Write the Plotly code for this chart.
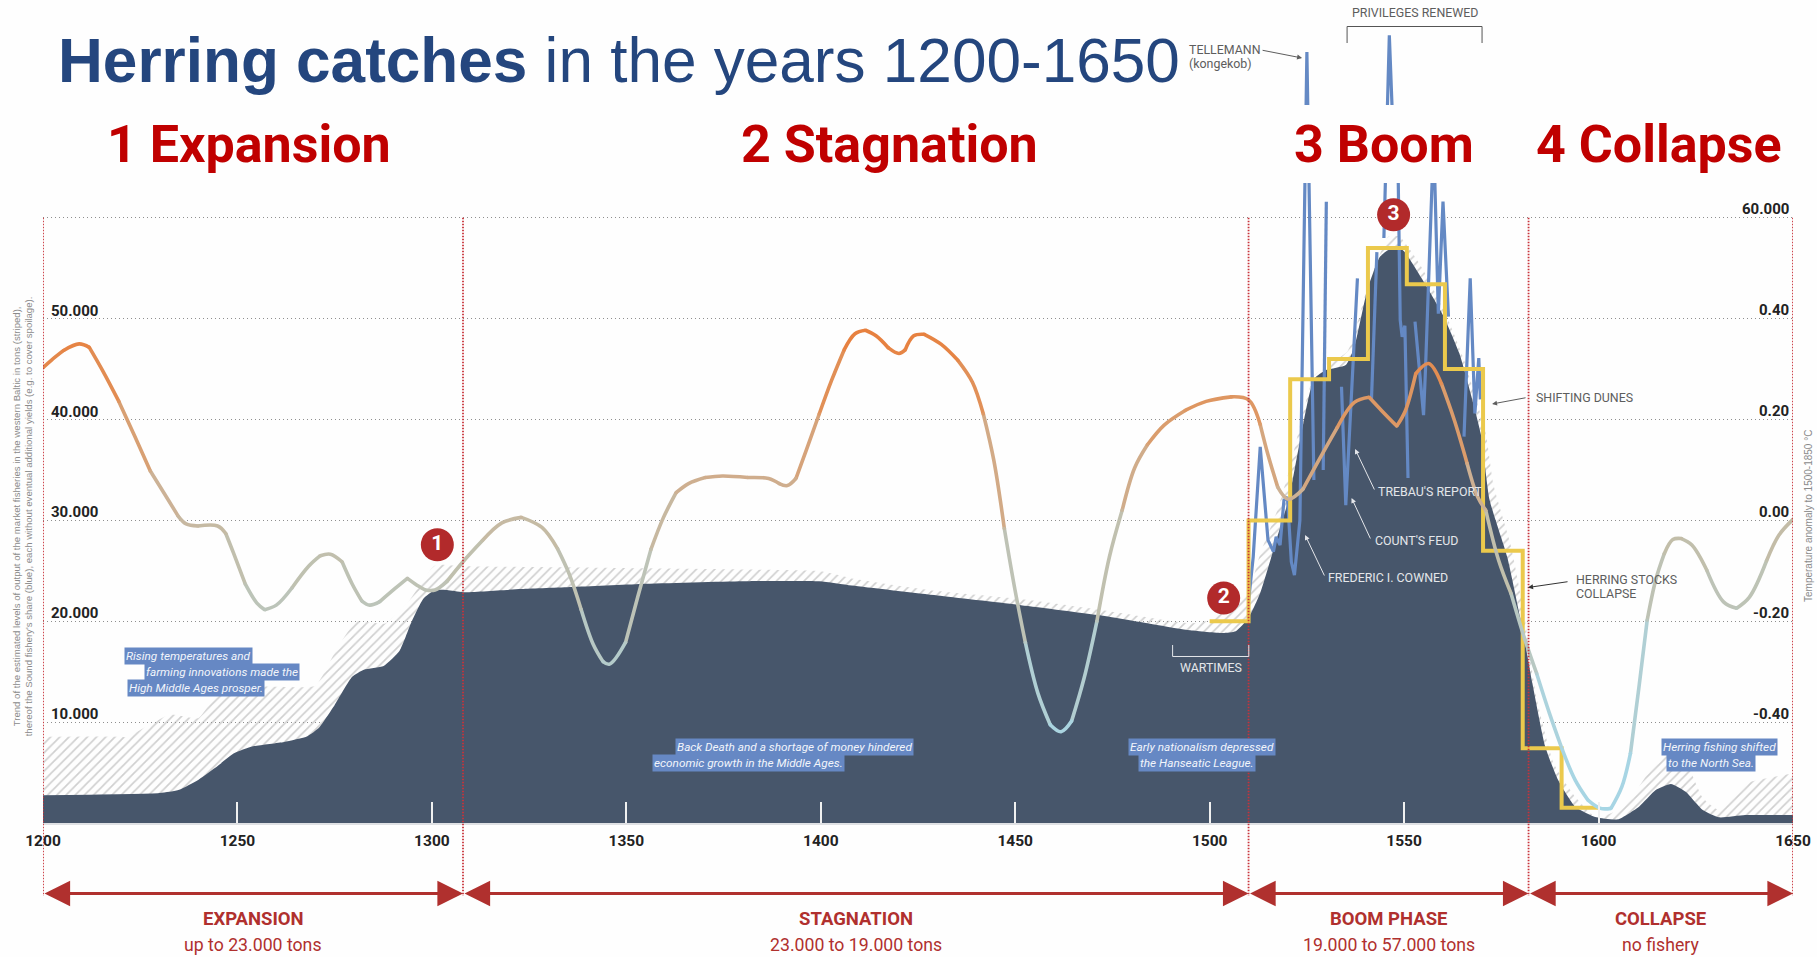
import plotly.graph_objects as go

# ---------- data ----------
catch_years = [1200,1230,1235,1240,1245,1249,1254,1262,1268,1271,1275,1279.5,1282.5,1287.6,1291.7,1294.7,1297.8,1300.8,1303.9,1308,1323,1336,1354,1380,1399.6,1408,1430,1451.5,1473,1495,1503.4,1506.7,1510,1513,1517.4,1520.5,1526.8,1530,1535,1537.2,1540.5,1543.7,1546,1549.6,1554.5,1560,1564.2,1569.7,1572,1576.5,1580.8,1583,1586.3,1589.6,1594,1599.4,1605,1610.4,1614.7,1618.6,1622.4,1626.8,1631,1637.7,1650]
sound_share = [2750,2970,3300,4300,5680,6880,7600,8040,8600,9460,11700,14500,15200,15570,17070,19870,22230,23090,23090,22880,23200,23400,23700,23970,23970,23540,22550,21600,20530,19100,18830,19000,20350,22800,28370,32340,44000,44900,45400,47200,52800,56100,56800,56800,54000,50350,46560,38600,32000,26400,18500,13840,7560,4260,1615,560,360,1615,3270,3870,3100,1290,560,790,790]

total_years = [1200,1220,1221.5,1232.7,1240,1246,1260,1270,1275,1280.5,1288,1293.7,1300.8,1308,1343,1380,1400,1408,1430,1451.5,1473,1495,1500,1510,1513,1517.4,1520.7,1526.8,1530,1535.5,1540.5,1546,1548.8,1554.5,1561,1565.5,1571,1573,1577.5,1580.8,1584,1588.5,1594,1599.4,1605,1610.4,1613.6,1617,1622.4,1626.8,1631,1637.7,1650]
total_catch = [8560,8560,8500,10750,10400,13400,13500,13600,16860,19950,19780,21800,25540,25450,25300,25130,24950,24250,23000,22200,21060,19800,20120,23100,26700,31000,35300,44300,45300,46800,53000,58150,58150,55100,50200,45800,38600,33500,27400,20800,12500,5900,2600,560,1290,3600,5500,6900,6000,2500,1290,3900,4900]

step_years = [1500,1510,1520.7,1530.7,1540.7,1550.7,1560.5,1570.3,1580.5,1590.5,1600]
decade_catch = [20000,30000,44000,46000,57000,53400,45000,27000,7400,1500,1500]

sound_years = [1510,1511.2,1513,1515,1516.4,1517.1,1518.1,1519.1,1520,1521,1521.8,1523.2,1525,1526.8,None,
               1529.2,1530,None,
               1533.9,1535,1538,None,
               1541.6,1543,None,
               1544.8,1546.2,1546.9,1548.5,1549,1549.5,1550.2,1551,None,
               1552.8,1555,1555.5,1557.6,1558.8,1560,1561.4,None,
               1565.4,1567,1568.2,1569.2,1569.6]
sound_catch = [22000,26390,37300,28050,26900,28370,27550,32000,32300,25900,24580,30000,76440,34000,None,
               35000,61600,None,
               43250,31500,54000,None,
               41900,56600,None,
               58000,78100,71000,63400,49850,48200,49300,34200,None,
               49700,40430,45000,68000,50500,61600,50200,None,
               38300,54000,40600,46100,42000]

temp_years = [1200,1202.2,1205.3,1209.3,1211.9,1215.4,1219.5,1223.6,1227.6,1231.7,1234.8,1236.8,1239.8,1244.9,1247,1249,1252,1255,1257,1260,1264,1268.3,1271.3,1273.9,1276.9,1279.5,1282,1284,1286.6,1290.7,1293.7,1295.7,1298.3,1300.8,1303.9,1308,1313,1318,1323,1328.3,1332.3,1335.4,1338.4,1341.5,1344,1345.7,1349.8,1353,1356.3,1359.5,1362.8,1366,1370.3,1374.7,1381.2,1386.6,1389.3,1391.4,1393.6,1396.3,1399.6,1402.8,1406,1408.8,1411.5,1414.2,1417.4,1420.1,1421.7,1423.9,1426.6,1431,1435.3,1439,1441.8,1444.5,1447.2,1449.9,1452.6,1455.8,1459,1461.8,1464.5,1467.7,1471,1474.2,1477.5,1480.7,1484,1488.3,1493.7,1499.1,1505.6,1510,1513,1515,1517.5,1520.2,1524,1528.4,1532.8,1537.2,1541,1544.3,1548.1,1550.3,1553,1556.3,1559.6,1562.9,1566.2,1568.9,1571,1574.3,1577.5,1580.8,1584.1,1587.4,1590.7,1594,1597.2,1600.5,1603.2,1606,1608.2,1610.4,1612.5,1614.7,1616.9,1619.1,1621.3,1624,1627.9,1632.2,1635.5,1638.8,1643.2,1646.4,1650]
temp_anomaly = [.303,.318,.337,.35,.343,.296,.236,.167,.098,.047,.008,-.007,-.011,-.011,-.026,-.065,-.126,-.164,-.177,-.168,-.134,-.091,-.07,-.067,-.082,-.126,-.16,-.168,-.161,-.134,-.115,-.126,-.138,-.138,-.121,-.082,-.04,-.005,.006,-.014,-.056,-.108,-.177,-.246,-.28,-.285,-.242,-.15,-.058,.005,.055,.073,.085,.088,.085,.083,.073,.069,.083,.14,.211,.278,.338,.37,.377,.366,.342,.331,.338,.366,.369,.349,.317,.274,.211,.119,-.016,-.136,-.242,-.342,-.405,-.419,-.398,-.313,-.2,-.073,.02,.104,.15,.189,.218,.236,.245,.239,.19,.13,.066,.042,.062,.124,.184,.234,.244,.217,.187,.217,.291,.311,.271,.199,.113,.047,.02,-.079,-.145,-.23,-.304,-.383,-.455,-.515,-.554,-.571,-.571,-.528,-.462,-.33,-.198,-.118,-.066,-.038,-.036,-.049,-.1,-.162,-.174,-.152,-.08,-.029,.002]

year_ticks = [1200,1250,1300,1350,1400,1450,1500,1550,1600,1650]
catch_ticks = [10000,20000,30000,40000,50000]
catch_labels = ["10.000","20.000","30.000","40.000","50.000"]
temp_ticks = [60000,50000,40000,30000,20000,10000]
temp_labels = ["60.000","0.40","0.20","0.00","-0.20","-0.40"]

phase_edges = [1200,1308,1510,1582,1650]
phase_names = ["EXPANSION","STAGNATION","BOOM PHASE","COLLAPSE"]
phase_notes = ["up to 23.000 tons","23.000 to 19.000 tons","19.000 to 57.000 tons","no fishery"]
badge_years = [1301.4,1503.6,1547.3]
badge_catch = [27590,22300,60300]
badge_text = ["1","2","3"]

# ---------- styles ----------
W, H = 1817, 957
L, R, GRID_TOP, B = 42.7, 1793.0, 217.8, 823.0      # pixel frame: 1200..1650 and 60.000..0
TOP_CATCH = B / (B - GRID_TOP) * 60000              # catch value at the very top of the page
TOP_TEMP = TOP_CATCH / 50000 - 0.6
NARROW = "Roboto, sans-serif"
SANS = "Liberation Sans, Arial, sans-serif"
DARK = "#47566b"; RED = "#b0302e"; GREY = "#5d5d5d"; HEAD = "#c00000"; NAVY = "#24467e"

def xp(p): return (p - L) / (R - L)
def yp(p): return (B - p) / B
def yc(v): return B - v * (B - GRID_TOP) / 60000

def lerp_color(t):
    stops = [(-.60,(165,214,230)),(-.40,(170,212,224)),(-.20,(186,198,190)),(-.05,(194,190,170)),
             (.05,(204,178,150)),(.20,(220,155,105)),(.37,(232,128,62)),(.60,(232,128,62))]
    for (a,ca),(b,cb) in zip(stops, stops[1:]):
        if a <= t <= b:
            f = (t-a)/(b-a)
            return "rgb(%d,%d,%d)" % tuple(round(x+(y-x)*f) for x,y in zip(ca,cb))
    return "rgb(200,180,150)"

fig = go.Figure()
fig.add_trace(go.Scatter(x=total_years, y=total_catch, mode="lines", line=dict(width=0, shape="spline", smoothing=0.5), fill="tozeroy",
    fillcolor="rgba(255,255,255,0)",
    fillpattern=dict(shape="/", fgcolor="#a2a2a2", bgcolor="rgba(255,255,255,0)", size=6.5, solidity=0.26),
    hoverinfo="skip", showlegend=False, name="Total catch"))
fig.add_trace(go.Scatter(x=catch_years, y=sound_share, mode="lines", line=dict(width=0, shape="spline", smoothing=0.5), fill="tozeroy",
    fillcolor=DARK, hoverinfo="skip", showlegend=False, name="Sound share"))
fig.add_trace(go.Scatter(x=sound_years, y=sound_catch, mode="lines",
    line=dict(color="#6489c4", width=3.2), showlegend=False, name="Sound catches"))
fig.add_trace(go.Scatter(x=step_years, y=decade_catch, mode="lines", line=dict(color="#ebc94c", width=4, shape="hv"),
    showlegend=False, name="Decade mean"))
# The temperature line fades with its value: short spline pieces, each in its own colour.
for i in range(0, len(temp_years)-1, 2):
    xs, ys = temp_years[i:i+3], temp_anomaly[i:i+3]
    fig.add_trace(go.Scatter(x=xs, y=ys, yaxis="y2", mode="lines",
        line=dict(color=lerp_color(sum(ys)/len(ys)), width=3.6, shape="spline"), hoverinfo="skip", showlegend=False))
fig.add_trace(go.Scatter(x=temp_years[::2], y=temp_anomaly[::2], yaxis="y2", mode="markers",
    marker=dict(size=3.6, color=[lerp_color(t) for t in temp_anomaly[::2]]), hoverinfo="skip", showlegend=False))
fig.add_trace(go.Scatter(x=badge_years, y=badge_catch, mode="markers+text", text=badge_text,
    textposition="middle center", textfont=dict(family="Roboto, sans-serif", size=21, color="white", weight=700),
    marker=dict(size=33, color="#b22a2b"), hoverinfo="skip", showlegend=False))

ann = []
def text(px, py, s, size=14, color=GREY, family=NARROW, anchor="left", **kw):
    d = dict(xref="paper", yref="paper", x=xp(px), y=yp(py), text=s, showarrow=False, xanchor=anchor, yanchor="middle",
             font=dict(family=family, size=size, color=color))
    d["font"].update(kw.pop("font", {}))
    d.update(kw)
    ann.append(d)

def arrow(x0, y0, x1, y1, color=GREY):
    ann.append(dict(xref="paper", yref="paper", x=xp(x1), y=yp(y1), ax=x0-x1, ay=y0-y1, axref="pixel", ayref="pixel",
                    text="", showarrow=True, arrowhead=2, arrowsize=1, arrowwidth=1, arrowcolor=color))

# title
text(56, 60.5, "<b>Herring catches</b> in the years 1200-1650", size=62.1, color=NAVY, family=SANS)
for cx, s in [(249,"1 Expansion"),(889,"2 Stagnation"),(1384,"3 Boom"),(1659,"4 Collapse")]:
    text(cx, 144, s, size=52, color=HEAD, anchor="center", font=dict(weight=700))

# value labels
for v, s in zip(catch_ticks, catch_labels):
    text(49, yc(v)-8, s, size=15, color="#222222", font=dict(weight=700))
for v, s in zip(temp_ticks, temp_labels):
    text(1791, yc(v)-8.5, s, size=15, color="#222222", anchor="right", font=dict(weight=700))

# phases
for a, b, n, s in zip(phase_edges, phase_edges[1:], phase_names, phase_notes):
    ann.append(dict(xref="x", yref="paper", x=b, y=yp(893.5), ax=a, ay=0, axref="x", ayref="pixel", text="",
                    showarrow=True, arrowhead=2, arrowside="end+start", arrowsize=1.6, arrowwidth=3.2, arrowcolor=RED))
    ann.append(dict(xref="x", yref="paper", x=(a+b)/2, y=yp(919), text=n, showarrow=False, yanchor="middle",
                    font=dict(family=NARROW, size=18.5, color=RED, weight=700)))
    ann.append(dict(xref="x", yref="paper", x=(a+b)/2, y=yp(945), text=s, showarrow=False, yanchor="middle",
                    font=dict(family=NARROW, size=17.7, color=RED)))

# side titles
text(16, 516, "Trend of the estimated levels of output of the market fisheries in the western Baltic in tons (striped),",
     size=9.6, color="#8a8a8a", family=SANS, anchor="center", textangle=-90)
text(28, 516, "thereof the Sound fishery's share (blue), each without eventual additional yields (e.g. to cover spoilage).",
     size=9.6, color="#8a8a8a", family=SANS, anchor="center", textangle=-90)
text(1808, 516, "Temperature anomaly to 1500-1850 °C", size=10, color="#8a8a8a", family=SANS, anchor="center", textangle=-90)

# grey notes
NOTE = 12.4
text(1187, 49, "TELLEMANN", size=NOTE); text(1187, 63.5, "(kongekob)", size=NOTE)
arrow(1261, 50, 1302, 58)
text(1414.7, 13, "PRIVILEGES RENEWED", size=NOTE, anchor="center")
text(1534, 398, "SHIFTING DUNES", size=NOTE); arrow(1527, 397.5, 1492, 404)
text(1574, 579.5, "HERRING STOCKS", size=NOTE); text(1574, 593, "COLLAPSE", size=NOTE); arrow(1569, 581.5, 1528, 587.5, "#333333")
LIGHT = "#e4e6ea"
text(1376, 492, "TREBAU'S REPORT", size=NOTE, color=LIGHT); arrow(1375, 491, 1355, 449, LIGHT)
text(1373, 540, "COUNT'S FEUD", size=NOTE, color=LIGHT); arrow(1371, 540, 1351.5, 498, LIGHT)
text(1326, 577, "FREDERIC I. COWNED", size=NOTE, color=LIGHT); arrow(1325, 577, 1305, 535, LIGHT)
text(1211, 667, "WARTIMES", size=NOTE, color=LIGHT, anchor="center")

# highlighted notes
for cx, cy, s in [(188,656,"Rising temperatures and"),(222,672,"farming innovations made the"),(196,688,"High Middle Ages prosper."),
                  (794,746.5,"Back Death and a shortage of money hindered"),(748,763,"economic growth in the Middle Ages."),
                  (1202,746.5,"Early nationalism depressed"),(1197,763,"the Hanseatic League."),
                  (1719,746.5,"Herring fishing shifted"),(1711,763,"to the North Sea.")]:
    text(cx, cy, s, size=11.8, color="#f2f5fb", anchor="center", bgcolor="#6688c4", borderpad=1, font=dict(style="italic"))

# decoration shapes
shapes = []
for x in phase_edges:
    shapes.append(dict(type="line", xref="x", yref="paper", x0=x, x1=x, y0=yp(GRID_TOP), y1=yp(896), layer="above",
                       line=dict(color="#c8333a", width=1.8, dash="1.5px,1.5px")))
def path(points, color):
    d = "M" + " L".join(f"{xp(a):.5f},{yp(b):.5f}" for a, b in points)
    shapes.append(dict(type="path", xref="paper", yref="paper", path=d, layer="above", line=dict(color=color, width=1)))
path([(1347,43),(1347,26.5),(1482,26.5),(1482,43)], "#555555")
path([(1172.5,645),(1172.5,656.5),(1248.7,656.5),(1248.7,645)], LIGHT)
shapes.insert(0, dict(type="rect", xref="paper", yref="paper", x0=xp(1252), x1=xp(1525), y0=yp(183), y1=yp(105),
                      layer="above", fillcolor="#fefefe", line=dict(width=0)))

fig.update_layout(
    width=W, height=H, margin=dict(l=L, r=W-R, t=0, b=H-B, pad=0), autosize=False,
    paper_bgcolor="#fefefe", plot_bgcolor="#fefefe", showlegend=False,
    xaxis=dict(range=[1200,1650], tickmode="array", tickvals=year_ticks, ticktext=[str(y) for y in year_ticks],
               ticks="inside", ticklen=21, tickcolor="#f0f0f0", tickwidth=1.5, showgrid=False, zeroline=False, automargin=False,
               showline=True, linecolor="#dfe1e4", linewidth=1.5, layer="above traces",
               tickfont=dict(family=NARROW, size=15.5, color="#222222", weight=700), ticklabelstandoff=3),
    yaxis=dict(range=[0,TOP_CATCH], tickmode="array", tickvals=[10000,20000,30000,40000,50000,60000], showticklabels=False, automargin=False,
               showgrid=True, gridcolor="#8f8f8f", griddash="1px,3px", gridwidth=1, zeroline=False, showline=False),
    yaxis2=dict(range=[-.6,TOP_TEMP], overlaying="y", side="right", showticklabels=False, showgrid=False, zeroline=False, automargin=False),
    annotations=ann, shapes=shapes)

fig.write_html("out.html", config={"displayModeBar": False},
               post_script="document.body.style.margin='0';document.body.style.overflow='hidden';")
